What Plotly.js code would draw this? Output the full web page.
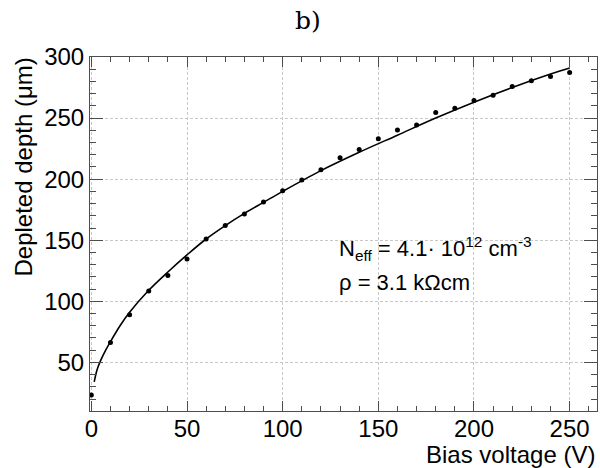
<!DOCTYPE html>
<html>
<head>
<meta charset="utf-8">
<script src="https://cdn.plot.ly/plotly-3.0.1.min.js"></script>
<style>html,body{margin:0;padding:0;background:#fff;} #chart{width:600px;height:468px;}</style>
</head>
<body>
<div id="chart"></div>
<script>
// Measured points
const biasVoltage = [0,10,20,30,40,50,60,70,80,90,100,110,120,130,140,150,160,170,180,190,200,210,220,230,240,250];
const depletedDepth = [23.4,66.2,89,108.4,121.2,134.6,151,162.1,171.5,181.3,190.6,199.3,207.8,217.6,224.2,233,240.3,244.4,254.5,258,264.3,268.7,275.8,280.5,284,287.3];
// Fit curve
const fitVoltage = [1.5,3,5,7.5,10,15,20,30,40,50,60,70,80,90,100,120,140,160,180,200,220,240,250];
const fitDepth = [34,44,52,60,67,80,91,109,124,138,151,162,172,181,190,207,222,236,250,263,275,286,291];
// Axis tick values
const xTicks = [0,50,100,150,200,250];
const yTicks = [50,100,150,200,250,300];

const font = 'Liberation Sans, Arial, sans-serif';
const axisColor = '#4d4d4d';

const traces = [
  {x: fitVoltage, y: fitDepth, type: 'scatter', mode: 'lines',
   line: {color: '#000', width: 1.6, shape: 'spline'}, hoverinfo: 'skip'},
  {x: biasVoltage, y: depletedDepth, type: 'scatter', mode: 'markers',
   marker: {color: '#000', size: 5}}
];

const layout = {
  width: 600, height: 468,
  margin: {l: 90, r: 3, t: 57, b: 57},
  paper_bgcolor: '#fff', plot_bgcolor: '#fff',
  showlegend: false,
  font: {family: font, color: '#000'},
  xaxis: {
    range: [-0.7, 264.3],
    tickvals: xTicks, ticktext: xTicks.map(String),
    ticks: 'inside', ticklen: 10, tickwidth: 1, tickcolor: axisColor,
    ticklabelstandoff: -4,
    minor: {dtick: 10, tick0: 0, ticks: 'inside', ticklen: 5, tickcolor: axisColor, showgrid: false},
    showline: true, linecolor: axisColor, linewidth: 1, mirror: 'ticks',
    showgrid: true, gridcolor: '#c8c8c8', griddash: '3px,2px', gridwidth: 1,
    zeroline: false,
    tickfont: {size: 24, family: font, color: '#000'}
  },
  yaxis: {
    range: [10.2, 300],
    tickvals: yTicks, ticktext: yTicks.map(String),
    ticks: 'inside', ticklen: 13, tickwidth: 1, tickcolor: axisColor,
    minor: {dtick: 10, tick0: 0, ticks: 'inside', ticklen: 6, tickcolor: axisColor, showgrid: false},
    showline: true, linecolor: axisColor, linewidth: 1, mirror: 'ticks',
    showgrid: true, gridcolor: '#c8c8c8', griddash: '3px,2px', gridwidth: 1,
    zeroline: false,
    tickfont: {size: 24, family: font, color: '#000'}
  },
  annotations: [
    {text: 'b)', xref: 'paper', yref: 'paper', x: 0.43, y: 1, yshift: 37,
     xanchor: 'center', yanchor: 'middle', showarrow: false,
     font: {size: 25, family: 'DejaVu Serif, serif', color: '#000'}},
    {text: 'Bias voltage (V)', xref: 'paper', yref: 'paper', x: 1, y: 0, yshift: -28,
     xanchor: 'right', yanchor: 'top', showarrow: false,
     font: {size: 24, family: font, color: '#000'}},
    {text: 'Depleted depth (\u03bcm)', xref: 'paper', yref: 'paper', x: 0, xshift: -67, y: 1, yshift: 1,
     xanchor: 'center', yanchor: 'top', textangle: -90, showarrow: false,
     font: {size: 24, family: font, color: '#000'}},
    {text: 'N<sub>eff</sub> = 4.1\u00b7 10<sup>12</sup> cm<sup>-3</sup>', xref: 'x', yref: 'y', x: 128.5, y: 143,
     xanchor: 'left', yanchor: 'middle', showarrow: false,
     font: {size: 22, family: font, color: '#000'}},
    {text: '\u03c1 = 3.1 k\u03a9cm', xref: 'x', yref: 'y', x: 128.5, y: 115,
     xanchor: 'left', yanchor: 'middle', showarrow: false,
     font: {size: 22, family: font, color: '#000'}}
  ]
};

Plotly.newPlot('chart', traces, layout, {displayModeBar: false, staticPlot: true});
</script>
</body>
</html>
